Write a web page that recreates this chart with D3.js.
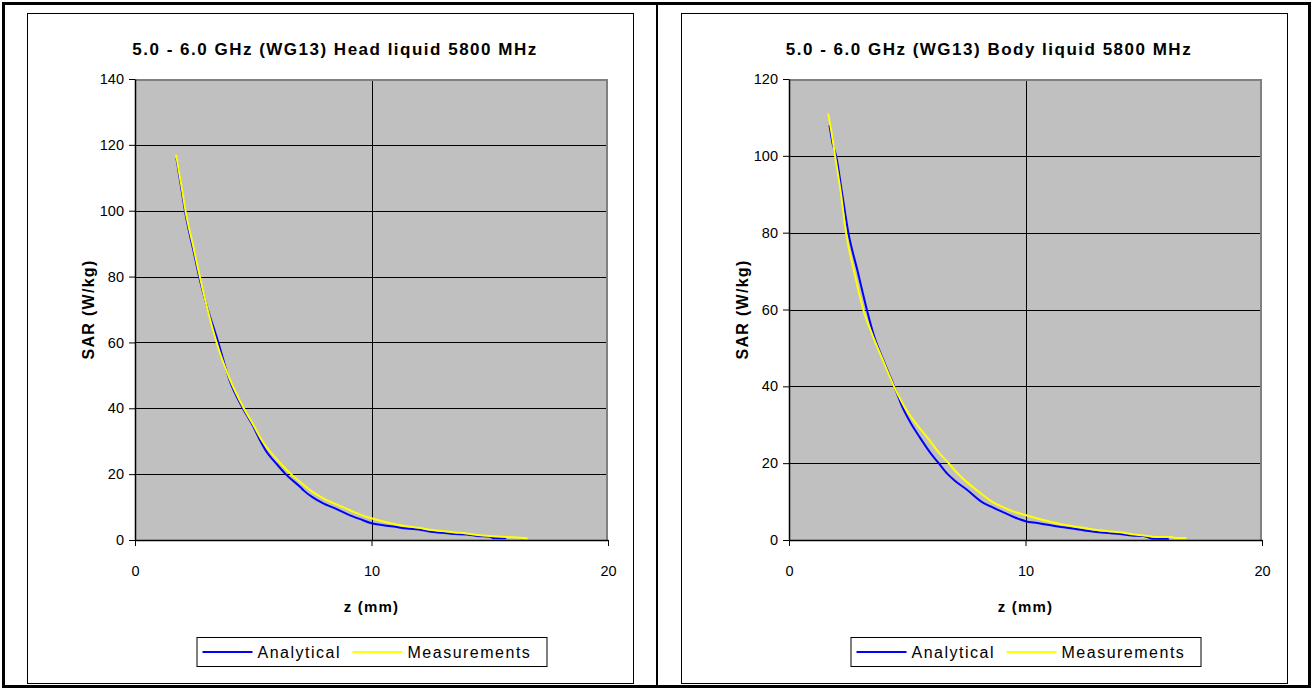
<!DOCTYPE html>
<html>
<head>
<meta charset="utf-8">
<script src="https://cdn.jsdelivr.net/npm/d3@7/dist/d3.min.js"></script>
<style>
  html, body { margin: 0; padding: 0; background: #fff; }
  svg { display: block; font-family: "Liberation Sans", Arial, sans-serif; }
</style>
</head>
<body>
<svg id="chart" width="1313" height="690"></svg>
<script>
// ---------- Data ----------
const xTicks = [0, 10, 20];
const headYTicks = [0, 20, 40, 60, 80, 100, 120, 140];
const bodyYTicks = [0, 20, 40, 60, 80, 100, 120];
const seriesNames = ["Analytical", "Measurements"];
const titles = [
  "5.0 - 6.0 GHz (WG13) Head liquid 5800 MHz",
  "5.0 - 6.0 GHz (WG13) Body liquid 5800 MHz"
];
const xTitle = "z (mm)";
const yTitle = "SAR (W/kg)";

// Head liquid, analytical
const headAnalyticalZ   = [1.75, 2.0, 2.11, 2.5, 2.71, 3.0, 3.5, 4.0, 4.56, 5.0, 5.27, 5.5, 6.0, 6.37, 7.0, 7.14, 7.5, 8.0, 8.33, 9.0, 9.5, 10.0, 10.5, 11.0, 11.5, 12.0, 12.5, 13.0, 13.5, 14.0, 14.5, 15.0, 15.2, 15.7];
const headAnalyticalSAR = [116, 105, 100, 87, 80, 72, 60.5, 48.5, 40, 34.5, 30.5, 27.5, 23, 20, 16, 15, 13, 11, 10, 7.8, 6.4, 5.1, 4.5, 4.0, 3.5, 3.2, 2.5, 2.2, 1.8, 1.7, 1.2, 1.0, 0.5, 0.5];
// Head liquid, measurements
const headMeasuredZ   = [1.74, 2.0, 2.11, 2.5, 2.71, 3.0, 3.45, 4.0, 4.6, 5.0, 5.39, 6.0, 6.6, 7.0, 7.43, 8.0, 8.79, 9.5, 10.0, 10.5, 11.0, 11.5, 12.0, 12.5, 13.0, 13.5, 14.0, 14.5, 15.0, 15.5, 16.0, 16.6];
const headMeasuredSAR = [117, 106, 101, 88, 81, 72, 60, 49, 40, 35, 30, 24.5, 20, 17.5, 15, 12.5, 10, 7.8, 6.6, 5.6, 4.8, 4.2, 3.7, 3.1, 2.7, 2.3, 2.0, 1.5, 1.2, 1.0, 0.8, 0.5];
// Body liquid, analytical
const bodyAnalyticalZ   = [1.71, 1.85, 1.99, 2.25, 2.51, 2.9, 3.29, 3.6, 3.99, 4.45, 4.8, 5.19, 5.5, 6.0, 6.33, 6.7, 7.0, 7.5, 8.13, 8.5, 9.0, 9.5, 10.0, 10.5, 11.0, 11.5, 12.0, 12.5, 13.0, 13.5, 14.0, 14.5, 15.0, 15.4, 16.06];
const bodyAnalyticalSAR = [108, 103, 100, 90, 80, 70, 60, 53, 46.8, 40, 34.5, 30, 27, 22.5, 20, 17.2, 15.5, 13.2, 10, 8.8, 7.4, 6.0, 4.9, 4.4, 3.9, 3.4, 3.0, 2.5, 2.1, 1.8, 1.56, 1.2, 1.04, 0.3, 0.3];
// Body liquid, measurements
const bodyMeasuredZ   = [1.66, 1.8, 1.95, 2.2, 2.41, 2.75, 3.14, 3.55, 3.99, 4.44, 4.9, 5.41, 6.0, 6.3, 6.75, 7.1, 7.53, 8.0, 8.58, 9.0, 9.5, 10.0, 10.5, 11.0, 11.5, 12.0, 12.5, 13.0, 13.5, 14.0, 14.5, 15.0, 15.5, 16.2, 16.3, 16.8];
const bodyMeasuredSAR = [111, 106, 100, 90, 80, 70, 60, 53, 46.5, 40, 34.5, 30, 25.5, 23, 20, 17.5, 15, 12.7, 10, 8.7, 7.4, 6.5, 5.6, 4.8, 4.1, 3.6, 3.1, 2.6, 2.3, 2.0, 1.5, 1.2, 0.8, 0.8, 0.5, 0.5];

const colors = ["#0000FF", "#FFFF00"];

// ---------- Drawing ----------
const svg = d3.select("#chart");

// outer border
svg.append("rect").attr("x", 3.5).attr("y", 3.5).attr("width", 1306).attr("height", 683)
  .attr("fill", "none").attr("stroke", "#000").attr("stroke-width", 3);
// divider
svg.append("line").attr("x1", 657).attr("x2", 657).attr("y1", 4).attr("y2", 686)
  .attr("stroke", "#000").attr("stroke-width", 2);

function zip(zs, vs) { return zs.map((z, i) => ({ z: z, v: vs[i] })); }

function drawChart(frameX, title, yTicks, series) {
  const g = svg.append("g");
  const frame = { x: frameX, y: 13, w: 606, h: 670 };
  g.append("rect").attr("x", frame.x + 0.5).attr("y", frame.y + 0.5)
    .attr("width", frame.w).attr("height", frame.h)
    .attr("fill", "#fff").attr("stroke", "#000").attr("stroke-width", 1);

  const left = frameX + 108, right = left + 473, top = 79, bottom = 540;
  const x = d3.scaleLinear().domain([0, 20]).range([left, right]);
  const y = d3.scaleLinear().domain([0, d3.max(yTicks)]).range([bottom, top]);

  // plot background
  g.append("rect").attr("x", left).attr("y", top).attr("width", right - left).attr("height", bottom - top)
    .attr("fill", "#C0C0C0");

  // gridlines
  g.append("g").selectAll("line").data(yTicks.filter(t => t > 0 && t < d3.max(yTicks)))
    .join("line")
    .attr("x1", left).attr("x2", right)
    .attr("y1", d => Math.round(y(d)) + 0.5).attr("y2", d => Math.round(y(d)) + 0.5)
    .attr("stroke", "#000").attr("stroke-width", 1);
  g.append("g").selectAll("line").data(xTicks.filter(t => t > 0 && t < 20))
    .join("line")
    .attr("x1", d => Math.round(x(d)) + 0.5).attr("x2", d => Math.round(x(d)) + 0.5)
    .attr("y1", top).attr("y2", bottom)
    .attr("stroke", "#000").attr("stroke-width", 1);

  // plot border (top/right gray)
  g.append("path")
    .attr("d", `M${left},${top + 1}H${right - 1}V${bottom}`)
    .attr("fill", "none").attr("stroke", "#808080").attr("stroke-width", 2);

  // axes
  const yAxis = d3.axisLeft(y).tickValues(yTicks).tickSize(6).tickSizeOuter(0).tickPadding(5);
  const gy = g.append("g").attr("transform", `translate(${left},0)`).call(yAxis);
  const xAxis = d3.axisBottom(x).tickValues(xTicks).tickSize(6).tickSizeOuter(0).tickPadding(20);
  const gx = g.append("g").attr("transform", `translate(0,${bottom})`).call(xAxis);
  [gy, gx].forEach(ax => {
    ax.select(".domain").attr("stroke", "#000").attr("stroke-width", 1.5);
    ax.selectAll(".tick line").attr("stroke", "#000");
    ax.selectAll(".tick text").attr("fill", "#000").style("font-size", "14.5px")
      .style("font-family", "'Liberation Sans', Arial, sans-serif");
  });

  // series lines
  const line = d3.line().x(d => x(d.z)).y(d => y(d.v)).curve(d3.curveMonotoneX);
  series.forEach((s, i) => {
    g.append("path").datum(s).attr("d", line)
      .attr("fill", "none").attr("stroke", colors[i]).attr("stroke-width", 2)
      .attr("stroke-linejoin", "round");
  });

  // title
  g.append("text").attr("x", frame.x + frame.w / 2 + 5).attr("y", 55)
    .attr("text-anchor", "middle").style("font-size", "17px").style("font-weight", "bold")
    .style("letter-spacing", "1.5px")
    .text(title);
  // axis titles
  const cx = (left + right) / 2;
  g.append("text").attr("x", cx).attr("y", 612).attr("text-anchor", "middle")
    .style("font-size", "15px").style("font-weight", "bold").style("letter-spacing", "1.2px")
    .text(xTitle);
  g.append("text").attr("transform", `translate(${left - 41},${(top + bottom) / 2}) rotate(-90)`)
    .attr("text-anchor", "middle").style("font-size", "16px").style("font-weight", "bold")
    .style("letter-spacing", "1.3px")
    .text(yTitle);

  // legend
  const lw = 350, lh = 29, lx = cx - lw / 2, ly = 637;
  const lg = g.append("g");
  lg.append("rect").attr("x", lx + 0.5).attr("y", ly + 0.5).attr("width", lw).attr("height", lh)
    .attr("fill", "#fff").attr("stroke", "#000").attr("stroke-width", 1);
  const items = [{ x0: lx + 6, name: seriesNames[0] }, { x0: lx + 156, name: seriesNames[1] }];
  items.forEach((it, i) => {
    lg.append("line").attr("x1", it.x0).attr("x2", it.x0 + 50)
      .attr("y1", ly + lh / 2 + 0.5).attr("y2", ly + lh / 2 + 0.5)
      .attr("stroke", colors[i]).attr("stroke-width", 2);
    lg.append("text").attr("x", it.x0 + 55).attr("y", ly + lh / 2 + 6)
      .style("font-size", "16px").style("letter-spacing", "1.5px").text(it.name);
  });
}

drawChart(27, titles[0], headYTicks, [zip(headAnalyticalZ, headAnalyticalSAR), zip(headMeasuredZ, headMeasuredSAR)]);
drawChart(681, titles[1], bodyYTicks, [zip(bodyAnalyticalZ, bodyAnalyticalSAR), zip(bodyMeasuredZ, bodyMeasuredSAR)]);
</script>
</body>
</html>
